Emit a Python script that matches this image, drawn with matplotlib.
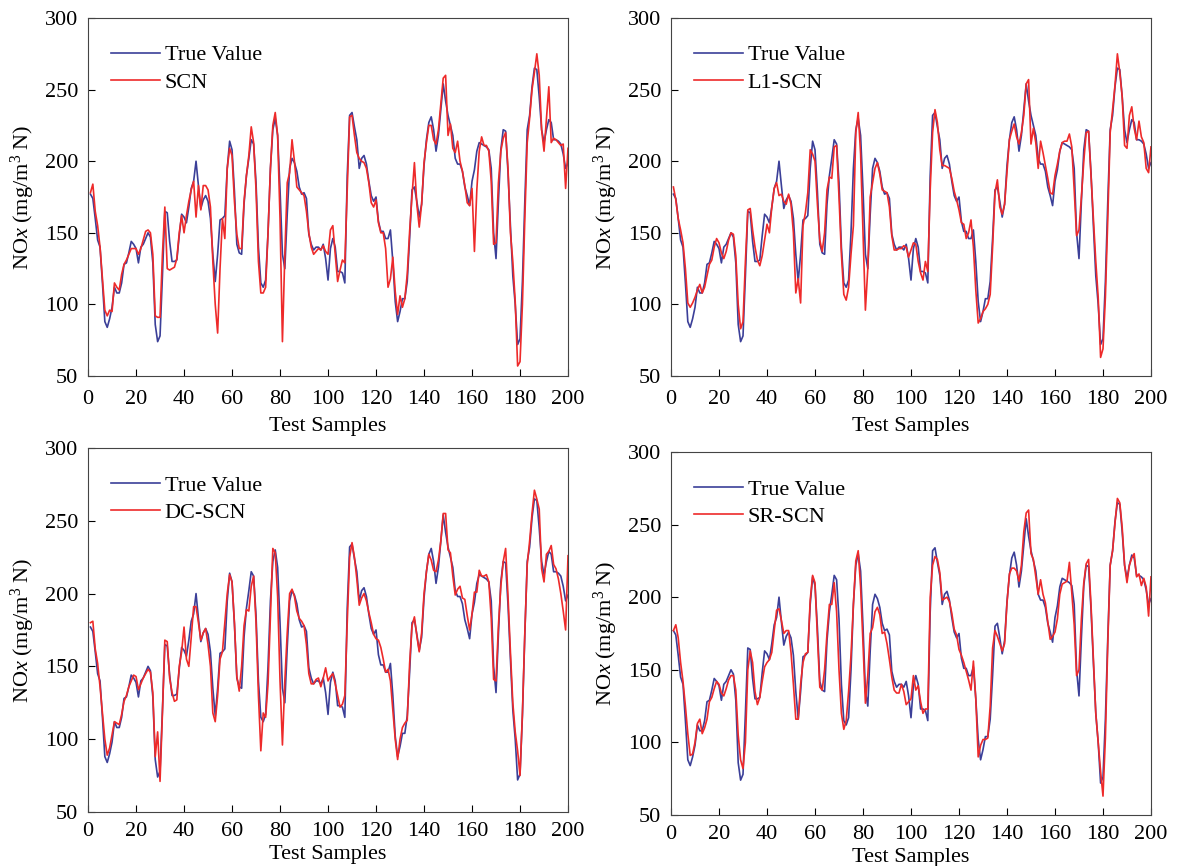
import numpy as np
import matplotlib
matplotlib.use("Agg")
import matplotlib.pyplot as plt

plt.rcParams['font.family'] = ['Liberation Serif', 'DejaVu Serif']
plt.rcParams['mathtext.fontset'] = 'custom'
plt.rcParams['mathtext.rm'] = 'Liberation Serif'
plt.rcParams['mathtext.it'] = 'Liberation Serif:italic'

samples = np.arange(1, 201)

true_value = [
    177, 174, 160, 145, 140, 115, 88, 84, 90, 98, 112, 108, 108, 115, 128, 129, 136, 144, 142, 139,
    129, 140, 142, 146, 150, 147, 129, 86, 74, 78, 120, 165, 164, 144, 130, 130, 131, 148, 163, 161,
    157, 168, 181, 186, 200, 183, 167, 173, 176, 172, 160, 135, 116, 135, 159, 160, 162, 195, 214, 208,
    179, 142, 136, 135, 170, 190, 202, 215, 212, 185, 140, 115, 112, 117, 150, 195, 222, 230, 218, 180,
    135, 125, 163, 195, 202, 199, 193, 182, 177, 178, 174, 149, 142, 138, 140, 140, 138, 142, 132, 117,
    139, 146, 140, 123, 123, 122, 115, 190, 232, 234, 224, 215, 195, 202, 204, 198, 186, 176, 172, 175,
    158, 151, 151, 146, 146, 152, 130, 102, 88, 95, 104, 104, 116, 146, 180, 182, 172, 161, 170, 197,
    215, 227, 231, 222, 207, 218, 236, 254, 242, 232, 225, 218, 202, 198, 198, 193, 182, 176, 169, 186,
    194, 207, 213, 212, 211, 210, 208, 195, 150, 132, 172, 208, 222, 221, 192, 155, 120, 100, 72, 76,
    116, 172, 222, 232, 252, 265, 264, 245, 222, 213, 222, 229, 227, 215, 215, 214, 212, 205, 195, 199,
]

scn = [
    178, 184, 165, 155, 140, 118, 96, 92, 96, 95, 115, 112, 110, 121, 128, 131, 135, 139, 139, 139,
    135, 139, 145, 151, 152, 150, 135, 92, 91, 91, 135, 168, 125, 124, 125, 126, 132, 150, 162, 150,
    162, 172, 180, 186, 161, 183, 166, 183, 183, 180, 168, 130, 100, 80, 125, 160, 146, 195, 209, 204,
    172, 149, 139, 139, 172, 190, 204, 224, 213, 180, 130, 108, 108, 112, 150, 195, 225, 234, 218, 160,
    74, 135, 185, 192, 215, 200, 182, 180, 178, 176, 165, 150, 140, 135, 137, 139, 138, 141, 137, 135,
    152, 155, 135, 116, 124, 131, 129, 181, 231, 232, 218, 206, 202, 200, 199, 195, 185, 171, 168, 173,
    157, 150, 150, 139, 112, 118, 133, 109, 93, 106, 98, 104, 121, 151, 176, 199, 170, 154, 170, 199,
    213, 225, 225, 215, 212, 222, 240, 258, 260, 218, 226, 209, 206, 214, 200, 193, 183, 171, 169, 181,
    137, 180, 207, 217, 211, 211, 207, 186, 142, 143, 185, 207, 216, 220, 195, 150, 130, 102, 57, 60,
    100, 160, 213, 230, 250, 262, 275, 260, 222, 207, 230, 252, 213, 216, 215, 213, 211, 212, 181, 209,
]

l1_scn = [
    182, 173, 160, 152, 143, 125, 101, 98, 101, 105, 110, 114, 108, 112, 120, 128, 131, 140, 146, 143,
    136, 132, 137, 145, 150, 149, 134, 100, 83, 88, 130, 166, 167, 152, 140, 131, 127, 134, 145, 156,
    150, 168, 181, 185, 176, 177, 172, 170, 177, 170, 150, 108, 118, 101, 155, 164, 178, 208, 205, 200,
    170, 145, 137, 150, 180, 189, 188, 210, 211, 175, 135, 107, 103, 112, 135, 155, 220, 234, 205, 150,
    96, 125, 175, 185, 195, 199, 191, 180, 179, 178, 168, 148, 138, 138, 139, 139, 141, 140, 133, 138,
    143, 142, 130, 122, 117, 130, 123, 180, 220, 236, 227, 208, 197, 197, 196, 195, 188, 179, 173, 166,
    157, 156, 146, 150, 159, 140, 110, 87, 90, 95, 97, 100, 107, 140, 178, 187, 168, 163, 170, 193,
    215, 221, 226, 217, 212, 220, 232, 254, 257, 212, 223, 213, 195, 214, 206, 197, 188, 178, 177, 190,
    198, 207, 213, 214, 214, 219, 210, 180, 148, 152, 175, 200, 220, 221, 190, 160, 130, 105, 63, 69,
    105, 160, 220, 236, 253, 275, 262, 245, 211, 209, 232, 238, 223, 215, 228, 217, 213, 195, 192, 210,
]

dc_scn = [
    180, 181, 162, 152, 136, 118, 100, 89, 94, 103, 112, 111, 110, 117, 126, 130, 136, 140, 144, 143,
    134, 138, 142, 145, 148, 146, 132, 88, 105, 71, 118, 168, 167, 142, 132, 126, 127, 150, 160, 177,
    155, 150, 170, 191, 191, 180, 168, 173, 176, 165, 150, 118, 112, 130, 155, 160, 180, 200, 213, 208,
    180, 143, 133, 150, 178, 189, 188, 205, 212, 180, 130, 92, 118, 115, 138, 185, 231, 228, 198, 140,
    96, 140, 173, 200, 203, 198, 188, 183, 181, 178, 165, 145, 138, 138, 141, 142, 136, 142, 149, 140,
    143, 145, 138, 130, 122, 124, 130, 180, 225, 235, 225, 210, 192, 197, 200, 195, 187, 180, 172, 169,
    168, 163, 155, 146, 148, 140, 120, 100, 86, 100, 108, 111, 113, 152, 178, 184, 171, 160, 173, 200,
    215, 227, 223, 216, 215, 223, 236, 255, 255, 230, 228, 212, 199, 203, 205, 197, 196, 185, 175, 186,
    201, 201, 216, 212, 212, 213, 208, 183, 141, 140, 178, 205, 222, 231, 198, 160, 125, 105, 92, 75,
    118, 173, 220, 236, 255, 271, 265, 258, 217, 208, 227, 229, 233, 220, 217, 210, 200, 188, 175, 226,
]

sr_scn = [
    177, 181, 172, 155, 142, 125, 106, 91, 92, 100, 113, 116, 106, 110, 116, 128, 131, 137, 142, 140,
    134, 132, 137, 143, 146, 146, 136, 105, 88, 82, 100, 150, 163, 155, 135, 126, 131, 142, 152, 155,
    157, 162, 177, 191, 192, 184, 175, 177, 177, 162, 140, 116, 116, 140, 155, 161, 162, 198, 215, 210,
    173, 138, 136, 150, 175, 195, 195, 210, 190, 150, 120, 109, 115, 135, 160, 195, 225, 232, 207, 168,
    127, 146, 175, 179, 190, 193, 188, 175, 176, 168, 157, 145, 136, 134, 134, 140, 135, 126, 128, 130,
    146, 136, 139, 128, 120, 123, 123, 200, 222, 228, 226, 217, 198, 199, 200, 197, 189, 178, 174, 164,
    160, 155, 149, 143, 136, 156, 130, 90, 98, 102, 102, 103, 125, 165, 177, 173, 168, 163, 168, 196,
    216, 220, 220, 218, 211, 222, 245, 258, 260, 230, 226, 214, 202, 212, 202, 196, 183, 171, 173, 176,
    185, 202, 209, 210, 211, 224, 203, 181, 146, 150, 185, 210, 223, 226, 195, 158, 120, 100, 80, 63,
    103, 168, 222, 232, 251, 268, 265, 248, 222, 210, 222, 227, 230, 214, 216, 208, 213, 207, 187, 214,
]

models = ['SCN', 'L1-SCN', 'DC-SCN', 'SR-SCN']
preds = [scn, l1_scn, dc_scn, sr_scn]

# axes boxes in figure fractions (left, bottom, width, height)
boxes = [
    (0.0748, 0.5658, 0.4078, 0.4134),
    (0.5701, 0.5658, 0.4078, 0.4134),
    (0.0748, 0.0624, 0.4078, 0.4203),
    (0.5701, 0.0589, 0.4078, 0.4192),
]
tick_pads = [10, 10, 7, 7]
xlabel_pads = [6, 6, 3, 3]

blue = '#3B3F98'
red = '#EE2A2A'

fig = plt.figure(figsize=(11.77, 8.66), dpi=100)
for box, name, pred, tp, lp in zip(boxes, models, preds, tick_pads, xlabel_pads):
    ax = fig.add_axes(box)
    ax.plot(samples, true_value, color=blue, lw=1.2, label='True Value')
    ax.plot(samples, pred, color=red, lw=1.2, label=name)
    ax.set_xlim(0, 200)
    ax.set_ylim(50, 300)
    ax.set_xticks(np.arange(0, 201, 20))
    ax.set_yticks(np.arange(50, 301, 50))
    ax.tick_params(direction='in', labelsize=16, length=5, pad=7, top=False, right=False)
    ax.tick_params(axis='x', pad=tp)
    for s in ax.spines.values():
        s.set_color('#444444')
    ax.set_xlabel('Test Samples', fontsize=16, labelpad=lp)
    ax.set_ylabel(r'NO$x$ (mg/m$^3$ N)', fontsize=16, labelpad=6)
    ax.legend(loc='upper left', bbox_to_anchor=(0.03, 0.95), frameon=False,
              fontsize=16, handlelength=2.2, handletextpad=0.2, labelspacing=0.3,
              borderaxespad=0.0)

fig.savefig('out.png', dpi=100)
